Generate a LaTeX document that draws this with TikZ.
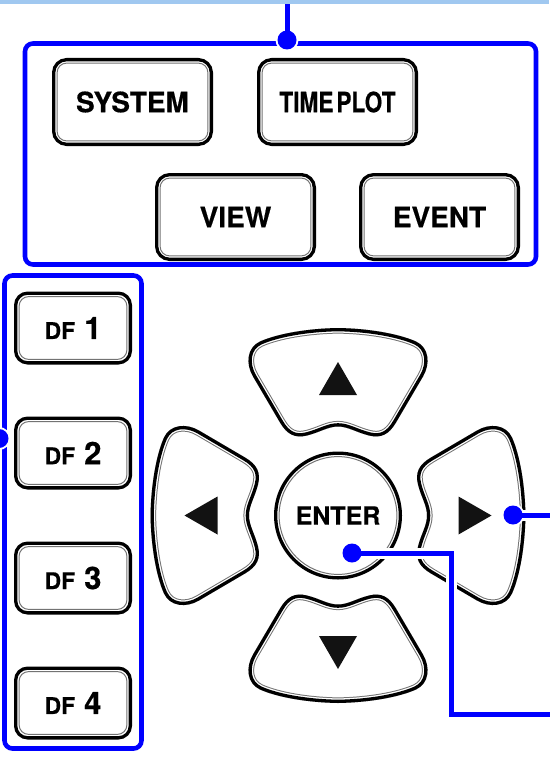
\documentclass[tikz,border=0pt]{standalone}
\usepackage{fontspec}
\setmainfont{TeX Gyre Heros}[BoldFeatures={FakeBold=0.5}]
\usepackage{graphicx}
\definecolor{leadblue}{RGB}{0,0,255}
\definecolor{bandblue}{RGB}{160,200,240}
\definecolor{rimgray}{RGB}{115,115,115}
\newcommand{\padkey}{(0,-187.5) .. controls (-30,-187) and (-60,-182) .. (-78,-174) .. controls (-91,-168) and (-92.6,-152) .. (-85,-139) -- (-58,-93) .. controls (-51,-81) and (-43,-77) .. (-31,-80) .. controls (-18,-83.3) and (-10,-89) .. (0,-89) .. controls (10,-89) and (18,-83.3) .. (31,-80) .. controls (43,-77) and (51,-81) .. (58,-93) -- (85,-139) .. controls (92.6,-152) and (91,-168) .. (78,-174) .. controls (60,-182) and (30,-187) .. (0,-187.5) -- cycle}
\newcommand{\dflabel}[1]{{\fontsize{23pt}{23pt}\selectfont DF}\kern9pt{\fontsize{31pt}{31pt}\selectfont #1}}
\begin{document}
\begin{tikzpicture}[x=1pt,y=-1pt,
  btn/.style={draw, line width=3.3pt, rounded corners=13pt, fill=white, inner sep=0pt,
    minimum width=157.7pt, minimum height=84.7pt,
    font=\fontsize{28pt}{28pt}\selectfont\bfseries,
    path picture={\draw[rimgray, line width=1pt, rounded corners=9.5pt]
      ([shift={(3.45pt,-3.45pt)}]path picture bounding box.north west) rectangle
      ([shift={(-3.45pt,3.45pt)}]path picture bounding box.south east);}},
  dfbtn/.style={btn, minimum width=114.7pt, minimum height=69.7pt, rounded corners=12pt},
  entercircle/.style={circle, draw, line width=3.3pt, fill=white, inner sep=0pt,
    minimum size=124.7pt, font=\fontsize{25pt}{25pt}\selectfont\bfseries,
    path picture={\draw[rimgray, line width=1pt]
      (path picture bounding box.center) circle[radius=58.9pt];}},
  frame/.style={draw=leadblue, line width=4.6pt, rounded corners=8pt},
  lead/.style={draw=leadblue, line width=5pt, preaction={draw=white, line width=11pt}},
  halo/.style={circle, fill=white, minimum size=23pt, inner sep=0pt},
  arrowtri/.style={fill=black!93}]
\useasboundingbox (0,0) rectangle (549,757);
\draw[frame] (25,43.5) rectangle (536,264.5);
\draw[frame] (4.5,275.5) rectangle (141.5,748.5);
\node[btn] (system) at (132.5,102) {SYSTEM};
\node[btn] (timeplot) at (337.5,102) {\scalebox{0.81}[1]{TIME\kern3.5pt PLOT}};
\node[btn] (view) at (235.5,217) {VIEW};
\node[btn] (event) at (439.5,217) {EVENT};
\foreach \n in {1,...,4}
  \node[dfbtn] (df\n) at (73,203+125*\n) {\dflabel{\n}};
\coordinate (cpad) at (338,515.5);
\foreach \a in {0,90,180,270}{
  \begin{scope}[shift={(cpad)}, rotate=\a]
    \begin{scope}
      \clip \padkey;
      \draw[line width=11.2pt, rimgray] \padkey;
      \draw[line width=9.2pt, white] \padkey;
      \draw[line width=6.6pt] \padkey;
    \end{scope}
    \fill[arrowtri] (0,-153.5) -- (19,-120.5) -- (-19,-120.5) -- cycle;
  \end{scope}
}
\node[entercircle] (enter) at (cpad) {ENTER};
\node[halo] (dtop) at (287,40) {};
\node[halo] (dleft) at (-1,438.5) {};
\node[halo] (dright) at (513,515) {};
\node[halo] (denter) at (352,553) {};
\coordinate (ttop) at (287,0);
\coordinate (eright) at (555,515);
\coordinate (bend) at (451,714);
\coordinate (eenter) at (555,714);
\draw[lead] (ttop) -- (dtop.center);
\draw[lead] (dright.center) -- (eright);
\draw[lead] (denter.center) -| (bend) -- (eenter);
\foreach \d in {dtop,dleft,dright,denter}
  \fill[leadblue] (\d.center) circle[radius=9.5pt];
\fill[bandblue] (0,0) rectangle (549,4);
\end{tikzpicture}
\end{document}
